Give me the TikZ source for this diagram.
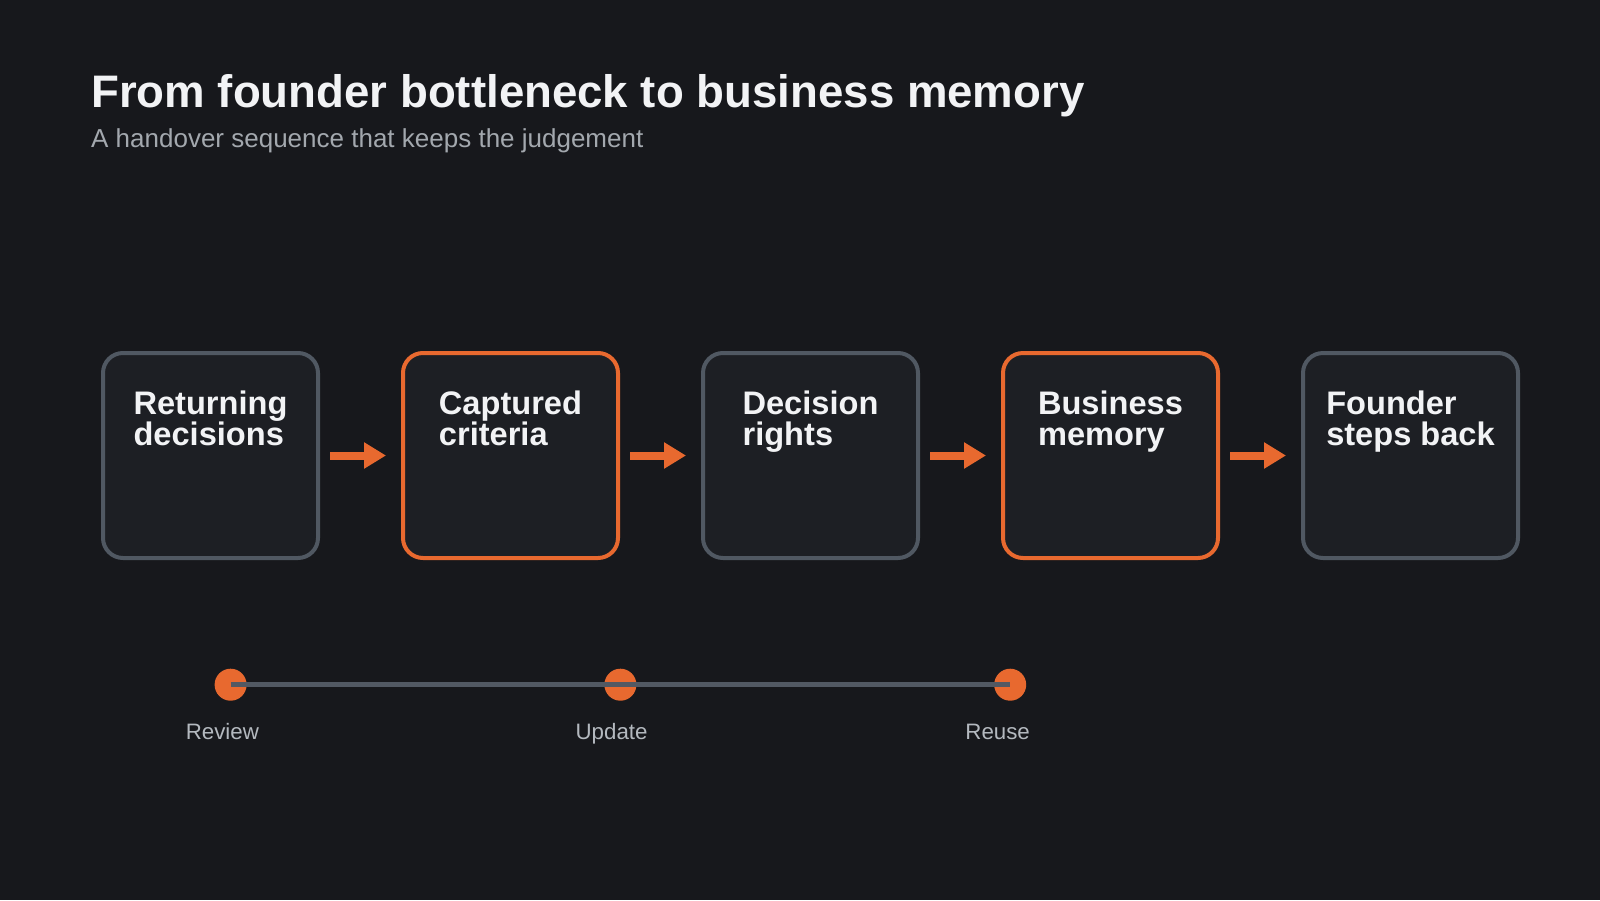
\documentclass[tikz,border=0pt]{standalone}
\usepackage{fontspec}
\setmainfont{Liberation Sans}
\usetikzlibrary{arrows.meta}
\definecolor{bg}{HTML}{17181C}
\definecolor{boxfill}{HTML}{1D1F24}
\definecolor{edgegray}{HTML}{505862}
\definecolor{accent}{HTML}{E8692F}
\definecolor{titlewhite}{HTML}{F2F3F5}
\definecolor{subgray}{HTML}{A3A8AE}
\definecolor{linegray}{HTML}{525963}
\definecolor{labelgray}{HTML}{B4B9BF}
\begin{document}
\begin{tikzpicture}[x=1pt,y=-1pt,
  stagebox/.style={draw=edgegray, line width=4pt, fill=boxfill, rounded corners=20pt,
    minimum width=215pt, minimum height=205pt, inner sep=0pt},
  keybox/.style={stagebox, draw=accent},
  stagetext/.style={align=left, text=titlewhite, font=\fontsize{32.6}{31}\selectfont\bfseries,
    inner sep=0pt, anchor=base},
  flow/.style={draw=accent, line width=8pt, -{Triangle[length=22pt,width=25pt]},
    shorten <=10pt, shorten >=15pt},
  dot/.style={circle, fill=accent, minimum size=32pt, inner sep=0pt},
  timeline/.style={draw=linegray, line width=5pt},
  tllabel/.style={text=labelgray, font=\fontsize{22.3}{26}\selectfont, inner sep=0pt, anchor=base west},
  titletext/.style={text=titlewhite, font=\fontsize{45.6}{52}\selectfont\bfseries, inner sep=0pt, anchor=base west},
  subtext/.style={text=subgray, font=\fontsize{26}{30}\selectfont, inner sep=0pt, anchor=base west}
]
\fill[bg] (0,0) rectangle (1600,900);
\useasboundingbox (0,0) rectangle (1600,900);

\node[titletext] (title) at (91,107) {From founder bottleneck to business memory};
\node[subtext] (subtitle) at (91,147) {A handover sequence that keeps the judgement};

\node[stagebox] (b1) at (210.5,455.5) {};
\node[keybox]   (b2) at (510.5,455.5) {};
\node[stagebox] (b3) at (810.5,455.5) {};
\node[keybox]   (b4) at (1110.5,455.5) {};
\node[stagebox] (b5) at (1410.5,455.5) {};

\node[stagetext] (t1) at (210.5,445) {Returning\\decisions};
\node[stagetext] (t2) at (510.5,445) {Captured\\criteria};
\node[stagetext] (t3) at (810.5,445) {Decision\\rights};
\node[stagetext] (t4) at (1110.5,445) {Business\\memory};
\node[stagetext] (t5) at (1410.5,445) {Founder\\steps back};

\draw[flow] (b1.east) -- (b2.west);
\draw[flow] (b2.east) -- (b3.west);
\draw[flow] (b3.east) -- (b4.west);
\draw[flow] (b4.east) -- (b5.west);

\node[dot] (d1) at (230.6,684.7) {};
\node[dot] (d2) at (620.4,684.7) {};
\node[dot] (d3) at (1010.2,684.7) {};
\draw[timeline] (d1.center) -- (d2.center) -- (d3.center);

\node[tllabel] (l1) at ([xshift=-45pt,yshift=-55pt]d1.center) {Review};
\node[tllabel] (l2) at ([xshift=-45pt,yshift=-55pt]d2.center) {Update};
\node[tllabel] (l3) at ([xshift=-45pt,yshift=-55pt]d3.center) {Reuse};
\end{tikzpicture}
\end{document}
